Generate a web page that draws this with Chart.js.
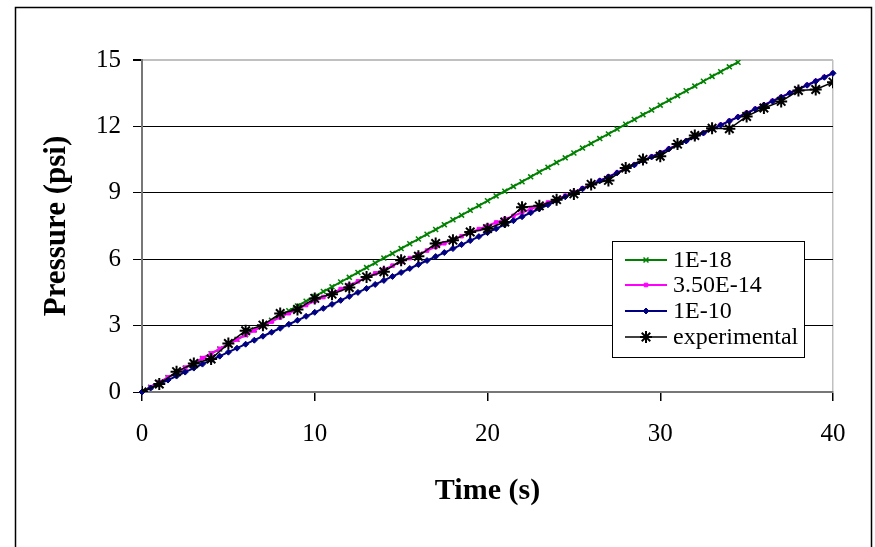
<!DOCTYPE html>
<html><head><meta charset="utf-8">
<script src="https://cdn.jsdelivr.net/npm/chart.js@4.4.0/dist/chart.umd.min.js"></script>
<style>html,body{margin:0;padding:0;background:#fff;overflow:hidden;} #wrap{width:875px;height:547px;}</style>
</head><body><div id="wrap"><canvas id="c" width="875" height="547"></canvas></div>
<script>
const simTime = [0,0.5,1,1.5,2,2.5,3,3.5,4,4.5,5,5.5,6,6.5,7,7.5,8,8.5,9,9.5,10,10.5,11,11.5,12,12.5,13,13.5,14,14.5,15,15.5,16,16.5,17,17.5,18,18.5,19,19.5,20,20.5,21,21.5,22,22.5,23,23.5,24,24.5,25,25.5,26,26.5,27,27.5,28,28.5,29,29.5,30,30.5,31,31.5,32,32.5,33,33.5,34,34.5,35,35.5,36,36.5,37,37.5,38,38.5,39,39.5,40,40.5];
const expTime = [0,1,2,3,4,5,6,7,8,9,10,11,12,13,14,15,16,17,18,19,20,21,22,23,24,25,26,27,28,29,30,31,32,33,34,35,36,37,38,39,40];
const series1E18 = [0,0.22,0.43,0.65,0.86,1.08,1.3,1.51,1.73,1.94,2.16,2.38,2.59,2.81,3.02,3.24,3.46,3.67,3.89,4.1,4.32,4.54,4.75,4.97,5.18,5.4,5.62,5.83,6.05,6.26,6.48,6.7,6.91,7.13,7.34,7.56,7.78,7.99,8.21,8.42,8.64,8.86,9.07,9.29,9.5,9.72,9.94,10.15,10.37,10.58,10.8,11.02,11.23,11.45,11.66,11.88,12.1,12.31,12.53,12.74,12.96,13.18,13.39,13.61,13.82,14.04,14.26,14.47,14.69,14.9];
const series350E14 = [0,0.22,0.44,0.66,0.88,1.1,1.31,1.53,1.74,1.95,2.16,2.37,2.57,2.78,2.98,3.18,3.37,3.56,3.75,3.93,4.11,4.29,4.47,4.65,4.83,5.0,5.18,5.36,5.53,5.71,5.88,6.05,6.22,6.39,6.56,6.72,6.88,7.04,7.2,7.36,7.51,7.66,7.81,7.96,8.11,8.26,8.41,8.56,8.71,8.87,9.03,9.2,9.37,9.55,9.73,9.91,10.09,10.27,10.45,10.63,10.81,10.99,11.17,11.35,11.53,11.71,11.89,12.07,12.25,12.43,12.61,12.79,12.97,13.15,13.33,13.51,13.69,13.87,14.05,14.23,14.41];
const series1E10 = [0,0.18,0.36,0.54,0.72,0.9,1.08,1.26,1.44,1.62,1.8,1.98,2.16,2.34,2.52,2.7,2.88,3.06,3.24,3.42,3.6,3.78,3.96,4.14,4.32,4.5,4.68,4.86,5.04,5.22,5.4,5.58,5.76,5.94,6.12,6.3,6.48,6.66,6.84,7.02,7.2,7.38,7.56,7.74,7.92,8.1,8.28,8.46,8.64,8.82,9.0,9.18,9.36,9.54,9.72,9.9,10.08,10.26,10.44,10.62,10.8,10.98,11.16,11.34,11.52,11.7,11.88,12.06,12.24,12.42,12.6,12.78,12.96,13.14,13.32,13.5,13.68,13.86,14.04,14.22,14.4,14.58];
const seriesExp = [0,0.36,0.92,1.29,1.49,2.19,2.77,3.02,3.55,3.73,4.23,4.42,4.72,5.2,5.43,5.95,6.13,6.71,6.86,7.23,7.38,7.68,8.35,8.41,8.69,8.95,9.38,9.56,10.12,10.51,10.65,11.2,11.59,11.92,11.89,12.45,12.83,13.13,13.62,13.67,14.0];
const seriesLabels = ['1E-18','3.50E-14','1E-10','experimental'];
const yTicks = [0,3,6,9,12,15];
const xTicks = [0,10,20,30,40];
const xTitle = 'Time (s)';
const yTitle = 'Pressure (psi)';

function pts(xs, ys){ return ys.map((y,i)=>({x:xs[i], y:y})); }
const SERIF = '"Liberation Serif", "Times New Roman", serif';

const frame = {
  id:'frame',
  beforeDraw(chart){
    const ctx = chart.ctx; ctx.save();
    ctx.fillStyle='#fff'; ctx.fillRect(0,0,chart.width,chart.height);
    ctx.strokeStyle='#000'; ctx.lineWidth=1.5;
    ctx.strokeRect(15.5,7.5,856,620);
    ctx.restore();
  }
};
const boxLegend = {
  id:'boxLegend',
  afterDraw(chart){
    const ctx = chart.ctx; ctx.save();
    const L=612, T=241, W=192, H=116;
    ctx.fillStyle='#fff'; ctx.fillRect(L,T,W,H);
    ctx.strokeStyle='#000'; ctx.lineWidth=1; ctx.strokeRect(L+0.5,T+0.5,W,H);
    const rows=[260,285,311,337];
    chart.data.datasets.forEach((ds,i)=>{
      const y=rows[i];
      ctx.strokeStyle=ds.borderColor; ctx.lineWidth=ds.borderWidth;
      ctx.beginPath(); ctx.moveTo(625,y); ctx.lineTo(667,y); ctx.stroke();
      ctx.fillStyle=ds.pointBackgroundColor; ctx.strokeStyle=ds.pointBorderColor;
      ctx.lineWidth=ds.pointBorderWidth;
      Chart.helpers.drawPoint(ctx,{pointStyle:ds.pointStyle,radius:ds.pointRadius,rotation:0,borderWidth:ds.pointBorderWidth},646,y);
      ctx.fillStyle='#000'; ctx.font='24px '+SERIF; ctx.textBaseline='middle'; ctx.textAlign='left';
      ctx.fillText(ds.label,673,y+1);
    });
    ctx.restore();
  }
};

new Chart(document.getElementById('c'), {
  type:'line',
  data:{
    datasets:[
      {label:seriesLabels[0], data:pts(simTime,series1E18), borderColor:'#008000', backgroundColor:'#008000',
       borderWidth:2, pointStyle:'crossRot', pointRadius:3.5, pointBorderColor:'#008000', pointBackgroundColor:'#008000', pointBorderWidth:1.5, order:3},
      {label:seriesLabels[1], data:pts(simTime,series350E14), borderColor:'#FF00FF', backgroundColor:'#FF00FF',
       borderWidth:2, pointStyle:'rect', pointRadius:2.5, pointBorderColor:'#FF00FF', pointBackgroundColor:'#FF00FF', pointBorderWidth:1, order:2},
      {label:seriesLabels[2], data:pts(simTime,series1E10), borderColor:'#000080', backgroundColor:'#000080',
       borderWidth:2, pointStyle:'rectRot', pointRadius:3, pointBorderColor:'#000080', pointBackgroundColor:'#000080', pointBorderWidth:1, order:1, clip:false},
      {label:seriesLabels[3], data:pts(expTime,seriesExp), borderColor:'#000000', backgroundColor:'#000000',
       borderWidth:1.5, pointStyle:'star', pointRadius:6, pointBorderColor:'#000000', pointBackgroundColor:'#000000', pointBorderWidth:2, order:0}
    ]
  },
  options:{
    responsive:false, animation:false, devicePixelRatio:1,
    layout:{padding:{left:18,right:42,top:60,bottom:0}},
    plugins:{legend:{display:false}, tooltip:{enabled:false}},
    elements:{line:{tension:0}},
    scales:{
      x:{type:'linear', min:0, max:40,
        afterFit(s){ s.height = 155; },
        afterBuildTicks(s){ s.ticks = xTicks.map(v=>({value:v})); },
        ticks:{color:'#000', font:{family:SERIF,size:25}, padding:18, maxRotation:0},
        grid:{drawOnChartArea:true, color:(c)=> (c.tick && c.tick.value===40) ? '#c0c0c0' : 'rgba(0,0,0,0)', tickColor:'#000', tickLength:9, lineWidth:1.5},
        border:{display:true, color:'#777', width:2},
        title:{display:true, text:xTitle, color:'#000', font:{family:SERIF,size:30,weight:'bold'}, padding:{top:0,bottom:38}}
      },
      y:{type:'linear', min:0, max:15,
        afterFit(s){ s.width = 124; },
        afterBuildTicks(s){ s.ticks = yTicks.map(v=>({value:v})); },
        ticks:{color:'#000', font:{family:SERIF,size:25}, padding:12},
        grid:{color:(c)=> (c.tick && c.tick.value===15) ? '#c0c0c0' : '#000', tickColor:'#000', tickLength:9, lineWidth:(c)=> (c.tick && c.tick.value===15) ? 2 : 1},
        border:{display:true, color:'#777', width:2},
        title:{display:true, text:yTitle, color:'#000', font:{family:SERIF,size:31,weight:'bold'}, padding:{top:20,bottom:0}}
      }
    }
  },
  plugins:[frame, boxLegend]
});
</script>
</body></html>
